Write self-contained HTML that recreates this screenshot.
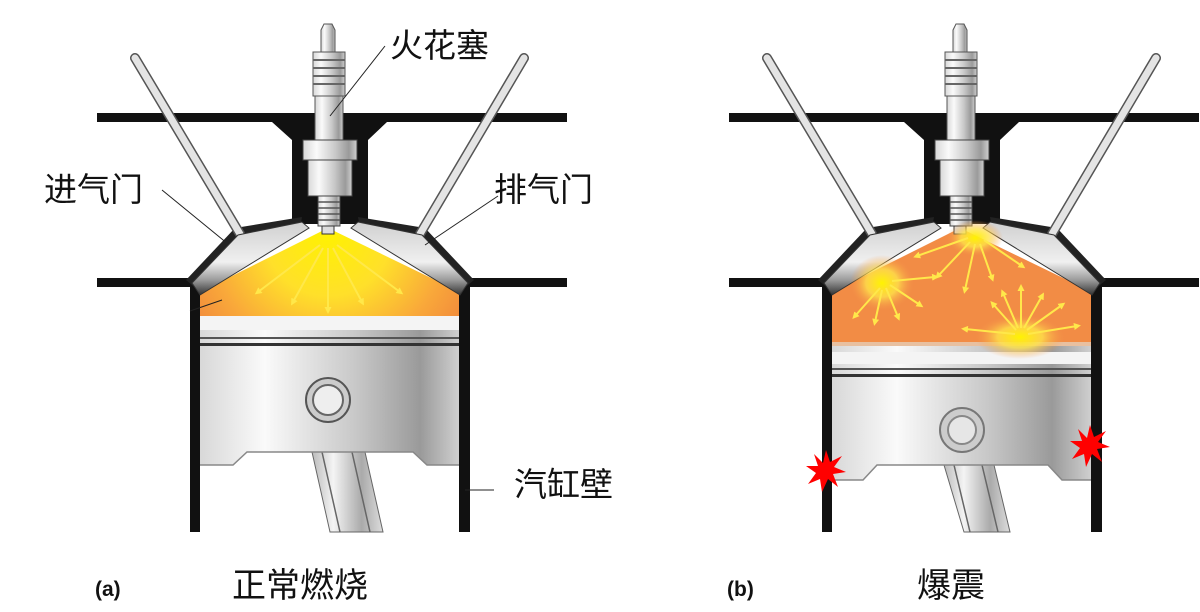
<!DOCTYPE html>
<html><head><meta charset="utf-8"><style>
html,body{margin:0;padding:0;background:#fff;width:1200px;height:612px;overflow:hidden}
svg{display:block}
.t{font-family:"Liberation Sans","Noto Sans CJK SC",sans-serif;fill:#111}
</style></head><body>
<svg width="1200" height="612" viewBox="0 0 1200 612" xmlns="http://www.w3.org/2000/svg">
<defs>
<linearGradient id="met" x1="0" x2="1" y1="0" y2="0">
<stop offset="0" stop-color="#d8d8d8"/><stop offset="0.25" stop-color="#fafafa"/><stop offset="0.6" stop-color="#c8c8c8"/><stop offset="0.85" stop-color="#9a9a9a"/><stop offset="1" stop-color="#cfcfcf"/></linearGradient>
<linearGradient id="rod" x1="0" x2="1"><stop offset="0" stop-color="#bbb"/><stop offset="0.3" stop-color="#f4f4f4"/><stop offset="0.7" stop-color="#aaa"/><stop offset="1" stop-color="#ddd"/></linearGradient>
<linearGradient id="valve" x1="0" x2="0" y1="0" y2="1"><stop offset="0" stop-color="#d0d0d0"/><stop offset="0.55" stop-color="#f0f0f0"/><stop offset="0.8" stop-color="#999"/><stop offset="1" stop-color="#333"/></linearGradient>
<radialGradient id="glowA" cx="328" cy="232" r="160" gradientUnits="userSpaceOnUse">
<stop offset="0" stop-color="#fff200"/><stop offset="0.4" stop-color="#ffe02a"/><stop offset="0.75" stop-color="#f9a83a"/><stop offset="1" stop-color="#f18a3c"/></radialGradient>
<radialGradient id="gy" r="0.5"><stop offset="0" stop-color="#fff300"/><stop offset="0.5" stop-color="#ffe34a" stop-opacity="0.8"/><stop offset="1" stop-color="#f5944a" stop-opacity="0"/></radialGradient>
<marker id="ar" markerWidth="7" markerHeight="7" refX="3" refY="3.5" orient="auto" markerUnits="userSpaceOnUse" viewBox="0 0 7 7">
<path d="M0,0 L7,3.5 L0,7 z" fill="#ffe84a"/></marker>
<g id="plug">
<path d="M324,24 h8 l3,6 v22 h-14 v-22 z" fill="url(#met)" stroke="#555"/>
<rect x="313" y="52" width="32" height="44" fill="url(#met)" stroke="#555"/>
<path d="M313,60h32M313,68h32M313,76h32M313,84h32" stroke="#666" stroke-width="2"/>
<rect x="315" y="96" width="28" height="44" fill="url(#met)" stroke="#555"/>
<rect x="303" y="140" width="54" height="20" fill="url(#met)" stroke="#444"/>
<rect x="308" y="160" width="44" height="36" fill="url(#met)" stroke="#444"/>
<rect x="318" y="196" width="22" height="30" fill="url(#met)" stroke="#444"/>
<path d="M318,202h22M318,208h22M318,214h22M318,220h22" stroke="#555" stroke-width="1.5"/>
<rect x="322" y="226" width="12" height="8" fill="#ddd" stroke="#333"/>
</g>
<g id="frame">
<rect x="97" y="113" width="470" height="9" fill="#111"/>
<path d="M272,122 L387,122 L368,140 L368,224 L292,224 L292,140 Z" fill="#111"/>
<rect x="97" y="278" width="95" height="9" fill="#111"/>
<rect x="465" y="278" width="102" height="9" fill="#111"/>
<rect x="190" y="280" width="10" height="252" fill="#111"/>
<rect x="459" y="280" width="11" height="252" fill="#111"/>
<path d="M186,280 L235,228 L302,217 L300,228 L200,292 Z" fill="#222"/>
<path d="M474,280 L425,228 L358,217 L360,228 L460,292 Z" fill="#222"/>
<line x1="135" y1="58" x2="240" y2="234" stroke="#555" stroke-width="10" stroke-linecap="round"/>
<line x1="135" y1="58" x2="240" y2="234" stroke="#e4e4e4" stroke-width="7" stroke-linecap="round"/>
<line x1="524" y1="58" x2="420" y2="234" stroke="#555" stroke-width="10" stroke-linecap="round"/>
<line x1="524" y1="58" x2="420" y2="234" stroke="#e4e4e4" stroke-width="7" stroke-linecap="round"/>
<path d="M192,283 L238,235 L302,222 L309,228 L200,295 Z" fill="url(#valve)" stroke="#333"/>
<path d="M468,283 L422,235 L358,222 L351,228 L460,295 Z" fill="url(#valve)" stroke="#333"/>
<use href="#plug"/>
</g>
</defs>

<!-- LEFT ENGINE -->
<path d="M200,292 L328,228 L460,292 L459,316 L200,316 Z" fill="url(#glowA)"/>
<path d="M312,452 L365,452 L383,532 L330,532 Z" fill="url(#rod)" stroke="#666"/>
<path d="M322,452 L340,532 M352,452 L370,532" stroke="#666" stroke-width="1.5"/>
<path d="M200,316 H459 V465 H427 L413,452 H247 L233,465 H200 Z" fill="url(#met)"/>
<path d="M200,465 H233 L247,452 H413 L427,465 H459" fill="none" stroke="#888" stroke-width="1.5"/>
<rect x="200" y="316" width="259" height="14" fill="#f4f4f4"/>
<rect x="200" y="337" width="259" height="2" fill="#555"/>
<rect x="200" y="343" width="259" height="3" fill="#333"/>
<circle cx="328" cy="400" r="22" fill="#ccc" stroke="#555" stroke-width="2"/>
<circle cx="328" cy="400" r="15" fill="#eee" stroke="#666" stroke-width="2"/>
<use href="#frame"/>
<g stroke="#ffe84a" stroke-width="2" marker-end="url(#ar)">
<line x1="320" y1="245" x2="258" y2="292"/><line x1="323" y1="248" x2="293" y2="302"/>
<line x1="328" y1="248" x2="328" y2="310"/><line x1="333" y1="248" x2="362" y2="302"/>
<line x1="337" y1="245" x2="400" y2="292"/></g>

<!-- RIGHT ENGINE -->
<g transform="translate(632,0)">
<path d="M200,292 L328,228 L460,292 L459,342 L200,342 Z" fill="#f28c45"/>
<path d="M312,465 L362,465 L378,532 L332,532 Z" fill="url(#rod)" stroke="#666"/>
<path d="M322,465 L338,532 M350,465 L366,532" stroke="#666" stroke-width="1.5"/>
<path d="M200,342 H459 V480 H430 L416,465 H245 L231,480 H200 Z" fill="url(#met)"/>
<path d="M200,480 H231 L245,465 H416 L430,480 H459" fill="none" stroke="#888" stroke-width="1.5"/>
<rect x="200" y="342" width="259" height="4" fill="#e8c0a0"/>
<rect x="200" y="352" width="259" height="12" fill="#f4f4f4"/>
<rect x="200" y="368" width="259" height="2" fill="#555"/>
<rect x="200" y="374" width="259" height="3" fill="#333"/>
<circle cx="330" cy="430" r="22" fill="#ccc" stroke="#777" stroke-width="2"/>
<circle cx="330" cy="430" r="14" fill="#e6e6e6" stroke="#888" stroke-width="2"/>
<use href="#frame"/>
</g>
<ellipse cx="975" cy="238" rx="28" ry="18" fill="url(#gy)"/>
<ellipse cx="882" cy="283" rx="32" ry="28" fill="url(#gy)"/>
<ellipse cx="1020" cy="337" rx="45" ry="22" fill="url(#gy)"/>
<g stroke="#ffe84a" stroke-width="2" marker-end="url(#ar)">
<line x1="968" y1="238" x2="917" y2="256"/><line x1="970" y1="242" x2="938" y2="276"/>
<line x1="975" y1="244" x2="965" y2="290"/><line x1="980" y1="244" x2="992" y2="278"/>
<line x1="984" y1="240" x2="1022" y2="266"/>
<line x1="880" y1="288" x2="855" y2="316"/><line x1="882" y1="290" x2="875" y2="322"/>
<line x1="886" y1="288" x2="898" y2="317"/><line x1="890" y1="285" x2="920" y2="305"/>
<line x1="892" y1="281" x2="935" y2="277"/>
<line x1="1015" y1="334" x2="965" y2="329"/><line x1="1016" y1="330" x2="993" y2="304"/>
<line x1="1018" y1="328" x2="1003" y2="293"/><line x1="1021" y1="328" x2="1021" y2="288"/>
<line x1="1024" y1="328" x2="1042" y2="296"/><line x1="1027" y1="330" x2="1062" y2="305"/>
<line x1="1028" y1="334" x2="1077" y2="326"/></g>
<g fill="#f00">
<polygon points="826,450 830,462 842,456 834,467 846,472 833,474 838,487 828,479 822,492 820,479 808,484 816,473 806,466 818,466 814,454 823,463"/>
<polygon points="1090,425 1094,437 1106,431 1098,442 1110,447 1097,449 1102,462 1092,454 1086,467 1084,454 1072,459 1080,448 1070,441 1082,441 1078,429 1087,438"/>
</g>

<!-- labels -->
<g stroke="#222" stroke-width="1">
<line x1="385" y1="46" x2="330" y2="116"/>
<line x1="162" y1="190" x2="228" y2="244"/>
<line x1="498" y1="196" x2="425" y2="245"/>
<line x1="465" y1="490" x2="494" y2="490"/>
<line x1="190" y1="311" x2="222" y2="300"/>
</g>
<text class="t" x="390" y="57" font-size="33">火花塞</text>
<text class="t" x="44" y="201" font-size="33">进气门</text>
<text class="t" x="494" y="201" font-size="33">排气门</text>
<text class="t" x="514" y="496" font-size="33">汽缸壁</text>
<text class="t" x="95" y="596" font-size="21" font-weight="bold">(a)</text>
<text class="t" x="232" y="597" font-size="34">正常燃烧</text>
<text class="t" x="727" y="596" font-size="21" font-weight="bold">(b)</text>
<text class="t" x="917" y="597" font-size="34">爆震</text>
</svg>
</body></html>
